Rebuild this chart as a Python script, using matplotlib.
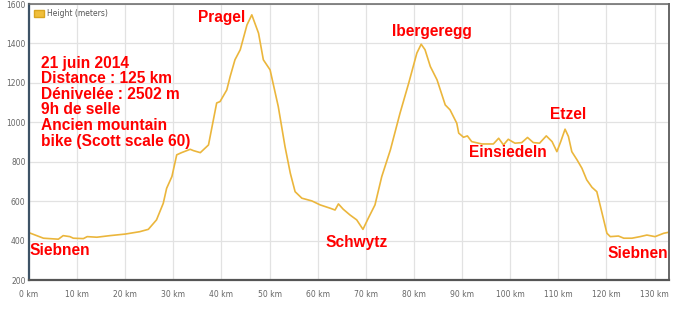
import matplotlib.pyplot as plt
from matplotlib.patches import Patch

# elevation profile
km = [0, 3, 6.1, 7.1, 8.5, 9.2, 11.3, 12.1, 14.1, 16.8, 20, 23, 24.8, 26.5, 27.9,
      28.6, 29.7, 30.7, 31.7, 33.5, 34.2, 35.6, 37.3, 39, 39.7, 41.1, 41.8, 42.8,
      43.9, 45.3, 46.3, 47.7, 48.7, 50.1, 51.8, 53.2, 54.3, 55.3, 56.7, 58.8, 60.5,
      62.6, 63.6, 64.3, 65.3, 66.7, 68.1, 69.4, 70.5, 71.9, 73.3, 75.1, 77.1, 78.9,
      80.6, 81.5, 82.3, 83.4, 84.8, 86.5, 87.5, 88.9, 89.3, 90.3, 91.1, 92, 94.1,
      96.5, 97.6, 98.6, 99.6, 100.4, 101, 102.4, 103.6, 104.8, 106.1, 107.5, 108.7,
      109.7, 110.5, 111.4, 112.1, 112.8, 113.9, 114.9, 115.9, 117, 118, 119.1,
      120.1, 120.8, 122.5, 123.6, 125.3, 127, 128.4, 130.1, 131.9, 132.9]
height = [440, 412, 407, 425, 420, 412, 410, 420, 417, 425, 433, 445, 457, 505, 589,
          665, 725, 835, 846, 863, 856, 846, 885, 1098, 1105, 1164, 1232, 1317,
          1368, 1494, 1545, 1452, 1317, 1266, 1080, 877, 742, 648, 615, 601, 581,
          564, 555, 586, 559, 530, 505, 457, 513, 581, 724, 860, 1046, 1198,
          1351, 1396, 1368, 1283, 1215, 1088, 1063, 995, 945, 924, 931, 902, 890,
          890, 919, 885, 914, 902, 894, 897, 923, 897, 894, 931, 902,
          851, 902, 965, 928, 851, 809, 767, 708, 670, 648, 538,
          437, 420, 423, 412, 412, 420, 428, 420, 437, 442]

places = ["Pragel", "Ibergeregg", "Schwytz", "Etzel", "Einsiedeln"]
place_km = [40.1, 83.8, 68.0, 112.0, 99.6]
place_h = [1530, 1459, 389, 1037, 845]

info = ["21 juin 2014", "Distance : 125 km", "Dénivelée : 2502 m", "9h de selle",
        "Ancien mountain", "bike (Scott scale 60)"]

xticks = list(range(0, 140, 10))
yticks = list(range(200, 1800, 200))

fig = plt.figure(figsize=(6.83, 3.12), dpi=100)
ax = fig.add_axes([29/683, 1 - 280/312, 640/683, 276/312])

ax.plot(km, height, color="#EBB63C", lw=1.2)

ax.set_xlim(0, 133)
ax.set_ylim(200, 1600)
ax.set_xticks(xticks)
ax.set_xticklabels(["%d km" % x for x in xticks])
ax.set_yticks(yticks)
ax.grid(True, color="#e2e2e2", lw=0.9)
ax.set_axisbelow(True)
ax.tick_params(length=0, labelsize=5.5, labelcolor="#666666")
ax.tick_params(axis="x", pad=7)
ax.tick_params(axis="y", pad=2.5)

ax.spines["left"].set_color("#3e5366")
ax.spines["left"].set_linewidth(1.6)
ax.spines["bottom"].set_color("#555555")
ax.spines["bottom"].set_linewidth(1.6)
ax.spines["top"].set_color("#666666")
ax.spines["top"].set_linewidth(1.1)
ax.spines["right"].set_color("#666666")
ax.spines["right"].set_linewidth(1.4)

leg = ax.legend(handles=[Patch(facecolor="#F0BE3A", edgecolor="#d9a520", label="Height (meters)")],
                loc="upper left", bbox_to_anchor=(0.0, 1.0), frameon=False,
                fontsize=5.5, handlelength=1.3, handleheight=1.0, handletextpad=0.4,
                borderaxespad=0.3)
for t in leg.get_texts():
    t.set_color("#555555")

red = dict(color="#ff0000", fontweight="bold", family="Liberation Sans", fontsize=11.2)
for name, x, y in zip(places, place_km, place_h):
    ax.text(x, y, name, ha="center", va="center", **red)
ax.text(0.1, 349, "Siebnen", ha="left", va="center", **red)
ax.text(132.9, 332, "Siebnen", ha="right", va="center", **red)

for i, line in enumerate(info):
    y = 280 - 67.7 - 15.6 * i
    ax.text(2.5, 200 + y / 0.197, line, ha="left", va="baseline", **red)

fig.savefig("out.png", dpi=100)
